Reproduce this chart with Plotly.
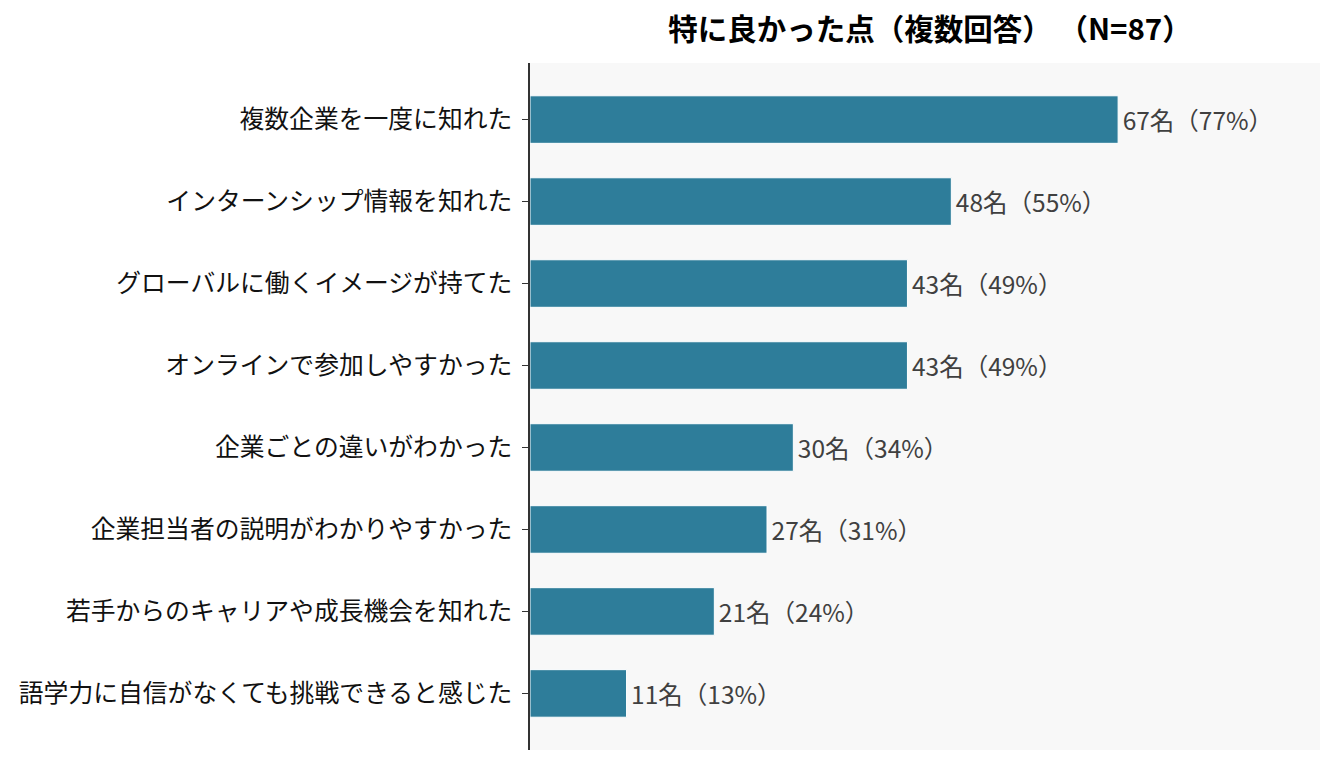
import plotly.graph_objects as go

categories = [
    "複数企業を一度に知れた",
    "インターンシップ情報を知れた",
    "グローバルに働くイメージが持てた",
    "オンラインで参加しやすかった",
    "企業ごとの違いがわかった",
    "企業担当者の説明がわかりやすかった",
    "若手からのキャリアや成長機会を知れた",
    "語学力に自信がなくても挑戦できると感じた",
]
counts = [67, 48, 43, 43, 30, 27, 21, 11]
percents = [77, 55, 49, 49, 34, 31, 24, 13]
N = 87
title = "特に良かった点（複数回答） （N=87）"

labels = ["\u200a" + f"{c}名（{p}%）" for c, p in zip(counts, percents)]
FONT = "Noto Sans CJK JP"

fig = go.Figure(go.Bar(
    x=counts[::-1],
    y=categories[::-1],
    orientation="h",
    marker=dict(color="#2e7d9a", line=dict(color="white", width=1)),
    width=0.58,
    text=labels[::-1],
    textposition="outside",
    textfont=dict(family=FONT, size=24.5, color="#404040"),
    cliponaxis=False,
    hoverinfo="skip",
))

fig.update_layout(
    width=1336, height=765,
    margin=dict(l=530, r=16, t=63, b=15),
    paper_bgcolor="white",
    plot_bgcolor="#f8f8f8",
    font=dict(family=FONT, size=24.8, color="#111"),
    title=dict(text=f"<b>{title}</b>", x=(540 + 1320) / 2 / 1336, xanchor="center",
               y=1 - 30 / 765, yanchor="middle",
               font=dict(family=FONT, size=29.5, color="#000")),
    showlegend=False,
)
fig.update_xaxes(range=[0, 90], showticklabels=False, showgrid=False, zeroline=False,
                 showline=False, ticks="")
fig.update_yaxes(range=[-0.69, 7.69], showgrid=False, zeroline=False,
                 showline=True, linecolor="#333", linewidth=1.5,
                 ticks="outside", ticklen=6, tickcolor="#333",
                 ticklabelstandoff=5,
                 tickfont=dict(family=FONT, size=24.8, color="#111"))

fig.write_html("out.html")
